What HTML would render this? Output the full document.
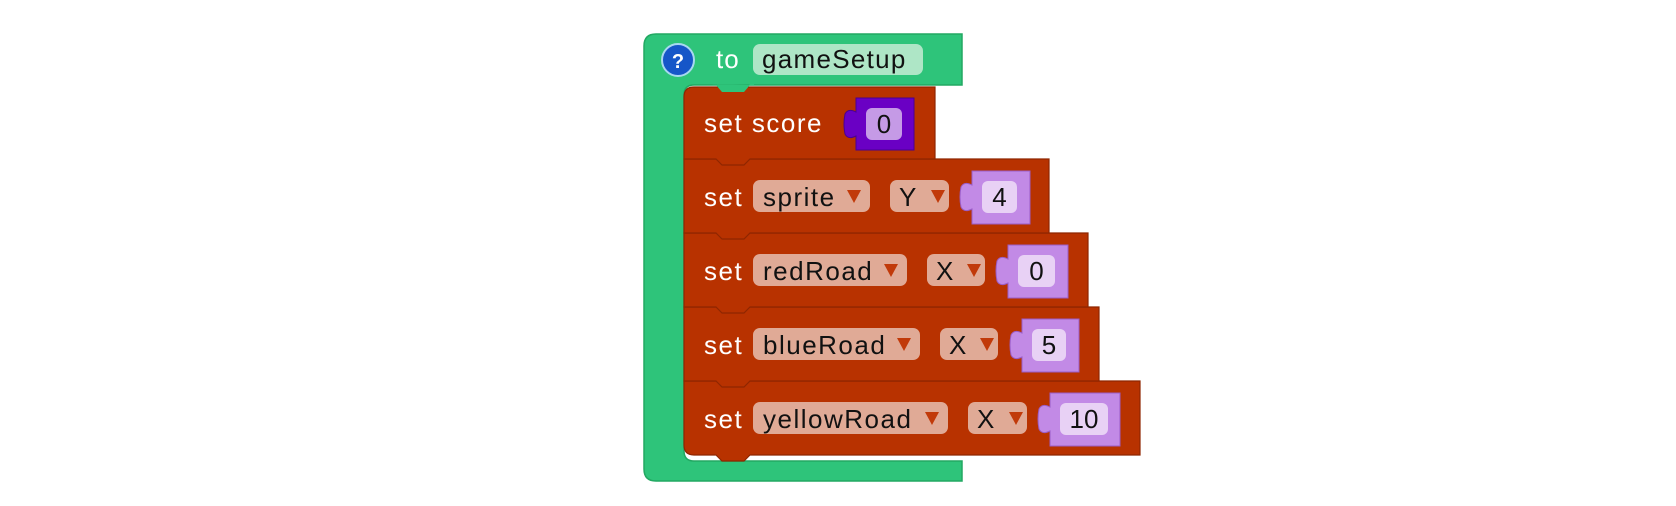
<!DOCTYPE html>
<html><head><meta charset="utf-8"><style>
html,body{margin:0;padding:0;background:#fff;width:1676px;height:506px;overflow:hidden}
svg text{font-family:"Liberation Sans",sans-serif;}
</style></head><body>
<svg width="1676" height="506" viewBox="0 0 1676 506" xmlns="http://www.w3.org/2000/svg">
<!-- green procedure block -->
<path d="M656 34 H962 V85 H694 Q684 85 684 95 V451 Q684 461 694 461 H962 V481 H656 Q644 481 644 469 V46 Q644 34 656 34 Z" fill="#2ec47a" stroke="#22a862" stroke-width="1.5"/>

<!-- red blocks, bottom to top so bottom tabs of upper blocks overlap lower ones -->
<g stroke="#8f2600" stroke-width="1.2">
<path d="M684 381 H1140 V455 H750 L744 461 H722 L716 455 H694 Q684 455 684 445 Z" fill="#b83200"/>
<path d="M684 307 H1099 V381 H750 L744 387 H722 L716 381 H684 Z" fill="#b83200"/>
<path d="M684 233 H1088 V307 H750 L744 313 H722 L716 307 H684 Z" fill="#b83200"/>
<path d="M684 159 H1049 V233 H750 L744 239 H722 L716 233 H684 Z" fill="#b83200"/>
<path d="M694 87 H935 V159 H750 L744 165 H722 L716 159 H684 V97 Q684 87 694 87 Z" fill="#b83200"/>
</g>
<!-- green tab into first red block -->
<path d="M712 84 H716 L722 91 H744 L750 84 H754 V85 Z" fill="#2ec47a"/>
<path d="M716 85 L722 92 H744 L750 85 Z" fill="#2ec47a"/>

<circle cx="678" cy="60" r="16" fill="#1656c8" stroke="#a8d8f0" stroke-width="2"/>
<text x="678" y="68" font-size="20" font-weight="bold" fill="#fff" text-anchor="middle">?</text>
<text x="716" y="68" font-size="26" fill="#fff" letter-spacing="1">to</text>
<rect x="753" y="44" width="170" height="31" rx="7" fill="#aee6c6"/>
<text x="762" y="68" font-size="26" fill="#111" letter-spacing="1.3">gameSetup</text>

<g font-size="26" fill="#fff" letter-spacing="1.5">
<text x="704" y="132">set score</text>
<text x="704" y="206">set</text>
<text x="704" y="280">set</text>
<text x="704" y="354">set</text>
<text x="704" y="428">set</text>
</g>

<!-- block1 value -->
<path d="M856 98 H914 V150 H856 V136 Q848 140 845 134 Q843 124 845 114 Q848 108 856 112 Z" fill="#6a00c4" stroke="#4a0090"/>
<rect x="866" y="108" width="36" height="32" rx="6" fill="#c59ae6"/>
<text x="884" y="133" font-size="26" fill="#111" text-anchor="middle">0</text>

<!-- dropdown pills -->
<g fill="#e0aa96">
<rect x="753" y="180" width="117" height="32" rx="7"/>
<rect x="890" y="180" width="59" height="32" rx="7"/>
<rect x="753" y="254" width="154" height="32" rx="7"/>
<rect x="927" y="254" width="58" height="32" rx="7"/>
<rect x="753" y="328" width="167" height="32" rx="7"/>
<rect x="940" y="328" width="58" height="32" rx="7"/>
<rect x="753" y="402" width="195" height="32" rx="7"/>
<rect x="968" y="402" width="59" height="32" rx="7"/>
</g>
<g font-size="26" fill="#111" letter-spacing="1.5">
<text x="763" y="206">sprite</text>
<text x="899" y="206">Y</text>
<text x="763" y="280">redRoad</text>
<text x="936" y="280">X</text>
<text x="763" y="354">blueRoad</text>
<text x="949" y="354">X</text>
<text x="763" y="428">yellowRoad</text>
<text x="977" y="428">X</text>
</g>
<g fill="#c13a0a">
<path d="M847 190 H861 L854 203 Z"/>
<path d="M931 190 H945 L938 203 Z"/>
<path d="M884 264 H898 L891 277 Z"/>
<path d="M967 264 H981 L974 277 Z"/>
<path d="M897 338 H911 L904 351 Z"/>
<path d="M980 338 H994 L987 351 Z"/>
<path d="M925 412 H939 L932 425 Z"/>
<path d="M1009 412 H1023 L1016 425 Z"/>
</g>

<!-- value blocks -->
<g fill="#c28ae6" stroke="#9a5cc8">
<path d="M972 171 H1030 V224 H972 V209 Q964 213 961 207 Q959 197 961 187 Q964 181 972 185 Z"/>
<path d="M1008 245 H1068 V298 H1008 V283 Q1000 287 997 281 Q995 271 997 261 Q1000 255 1008 259 Z"/>
<path d="M1022 319 H1079 V372 H1022 V357 Q1014 361 1011 355 Q1009 345 1011 335 Q1014 329 1022 333 Z"/>
<path d="M1050 393 H1120 V446 H1050 V431 Q1042 435 1039 429 Q1037 419 1039 409 Q1042 403 1050 407 Z"/>
</g>
<g fill="#e8d1f5">
<rect x="982" y="181" width="35" height="32" rx="6"/>
<rect x="1018" y="255" width="37" height="32" rx="6"/>
<rect x="1032" y="329" width="34" height="32" rx="6"/>
<rect x="1060" y="403" width="48" height="32" rx="6"/>
</g>
<g font-size="26" fill="#111" text-anchor="middle">
<text x="999.5" y="206">4</text>
<text x="1036.5" y="280">0</text>
<text x="1049" y="354">5</text>
<text x="1084" y="428">10</text>
</g>
</svg>
</body></html>
